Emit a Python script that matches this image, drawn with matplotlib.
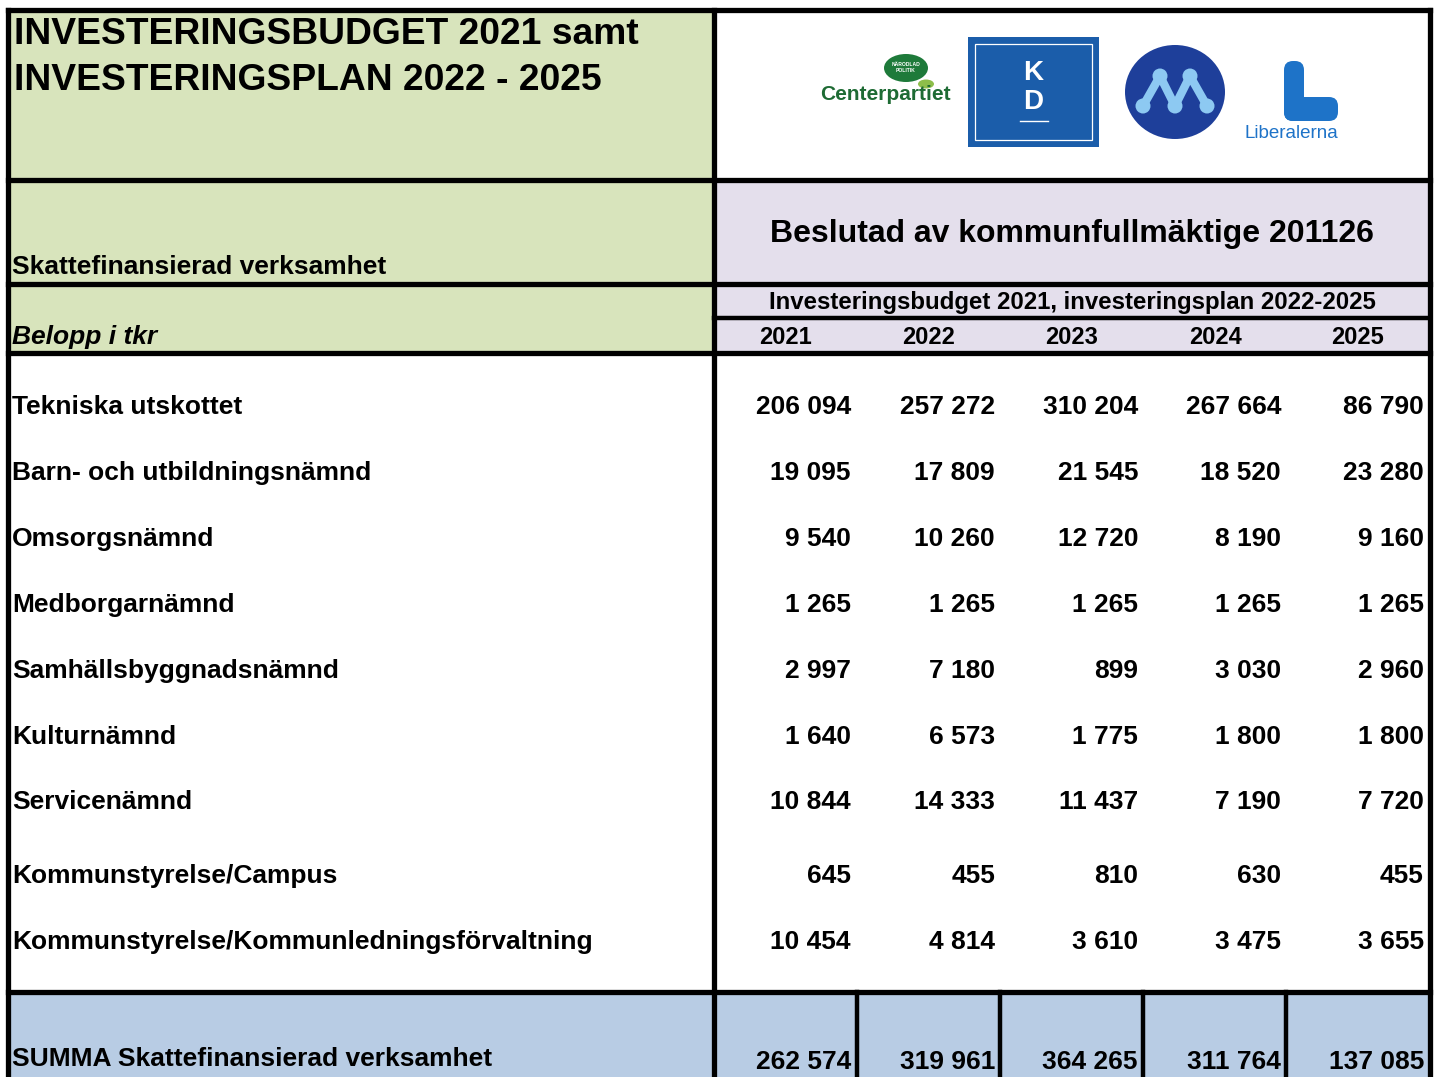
import matplotlib
matplotlib.use("Agg")
import matplotlib.pyplot as plt
from matplotlib.patches import Rectangle, Ellipse, FancyBboxPatch, Circle

plt.rcParams['font.family'] = ['Liberation Sans', 'DejaVu Sans']

# ---------------- data ----------------
title_lines = ["INVESTERINGSBUDGET 2021 samt", "INVESTERINGSPLAN 2022 - 2025"]
section_label = "Skattefinansierad verksamhet"
unit_label = "Belopp i tkr"
decision_text = "Beslutad av kommunfullmäktige 201126"
subheader_text = "Investeringsbudget 2021, investeringsplan 2022-2025"
years = ["2021", "2022", "2023", "2024", "2025"]
categories = [
    "Tekniska utskottet",
    "Barn- och utbildningsnämnd",
    "Omsorgsnämnd",
    "Medborgarnämnd",
    "Samhällsbyggnadsnämnd",
    "Kulturnämnd",
    "Servicenämnd",
    "Kommunstyrelse/Campus",
    "Kommunstyrelse/Kommunledningsförvaltning",
]
values_2021 = [206094, 19095, 9540, 1265, 2997, 1640, 10844, 645, 10454]
values_2022 = [257272, 17809, 10260, 1265, 7180, 6573, 14333, 455, 4814]
values_2023 = [310204, 21545, 12720, 1265, 899, 1775, 11437, 810, 3610]
values_2024 = [267664, 18520, 8190, 1265, 3030, 1800, 7190, 630, 3475]
values_2025 = [86790, 23280, 9160, 1265, 2960, 1800, 7720, 455, 3655]
total_label = "SUMMA Skattefinansierad verksamhet"
totals = [262574, 319961, 364265, 311764, 137085]

# ---------------- layout ----------------
W, H = 1440, 1077
fig = plt.figure(figsize=(W / 100, H / 100), dpi=100)
ax = fig.add_axes([0, 0, 1, 1])
ax.set_xlim(0, W)
ax.set_ylim(H, 0)
ax.axis('off')

GREEN = '#D8E4BC'
LAV = '#E4DFEC'
BLUE = '#B8CCE4'
LW = 3.8
DY = 2  # text baseline adjustment

def rect(x0, y0, x1, y1, color):
    ax.add_patch(Rectangle((x0, y0), x1 - x0, y1 - y0, facecolor=color, edgecolor='none', zorder=1))

rect(8, 10, 714, 180, GREEN)
rect(714, 10, 1430, 180, 'white')
rect(8, 180, 714, 284, GREEN)
rect(714, 180, 1430, 284, LAV)
rect(8, 284, 714, 353, GREEN)
rect(714, 284, 1430, 353, LAV)
rect(8, 353, 1430, 992, 'white')
rect(8, 992, 1430, H, BLUE)

def hline(y, x0, x1, lw=LW):
    ax.plot([x0, x1], [y, y], color='black', lw=lw, solid_capstyle='projecting', zorder=5)

def vline(x, y0, y1, lw=LW):
    ax.plot([x, x], [y0, y1], color='black', lw=lw, solid_capstyle='projecting', zorder=5)

hline(10, 8, 1430)
hline(180, 8, 1430)
hline(284, 8, 1430)
hline(318, 714, 1430, lw=3.2)
hline(353, 8, 1430)
hline(992, 8, 1430)
vline(8, 10, H + 5)
vline(1430, 10, H + 5)
vline(714, 10, H + 5)
col_sep = [857, 1000, 1143, 1286]
for x in col_sep:
    vline(x, 992, H + 5, lw=3.2)

# ---------------- texts ----------------
FS = 19
ax.text(14, 34 + 1, title_lines[0], fontsize=26.8, fontweight='bold', va='center', ha='left', zorder=6)
ax.text(14, 80 + 1, title_lines[1], fontsize=26.8, fontweight='bold', va='center', ha='left', zorder=6)
ax.text(12, 265 + DY, section_label, fontsize=FS, fontweight='bold', va='center', ha='left', zorder=6)
ax.text(12, 335 + DY, unit_label, fontsize=FS, fontweight='bold', style='italic', va='center', ha='left', zorder=6)
ax.text(1072, 232 + DY, decision_text, fontsize=23, fontweight='bold', va='center', ha='center', zorder=6)
ax.text(1072, 301 + DY, subheader_text, fontsize=17.3, fontweight='bold', va='center', ha='center', zorder=6)

year_centers = [785, 929, 1072, 1215, 1358]
for xc, yr in zip(year_centers, years):
    ax.text(xc, 336 + DY, yr, fontsize=17, fontweight='bold', va='center', ha='center', zorder=6)

def fmt(v):
    return f"{v:,}".replace(",", " ")

row_y = [405, 471, 537, 603, 669, 735, 800, 874, 940]
right_edges = [851, 995, 1138, 1281, 1424]
series = [values_2021, values_2022, values_2023, values_2024, values_2025]
for i, (cat, y) in enumerate(zip(categories, row_y)):
    ax.text(12, y + DY, cat, fontsize=FS, fontweight='bold', va='center', ha='left', zorder=6)
    for xr, vals in zip(right_edges, series):
        ax.text(xr, y + DY, fmt(vals[i]), fontsize=FS, fontweight='bold', va='center', ha='right', zorder=6)

ax.text(12, 1057 + DY, total_label, fontsize=FS, fontweight='bold', va='center', ha='left', zorder=6)
for xr, v in zip(right_edges, totals):
    ax.text(xr, 1060 + DY, fmt(v), fontsize=FS, fontweight='bold', va='center', ha='right', zorder=6)

# ---------------- logos (decorative) ----------------
# Centerpartiet
ax.add_patch(Ellipse((906, 68), 44, 28, facecolor='#1E7A3A', edgecolor='none', zorder=6))
ax.add_patch(Ellipse((926, 84), 16, 9, facecolor='#8DBE4A', edgecolor='none', zorder=6))
ax.text(906, 64, "NÄRODLAD", fontsize=3.6, color='white', fontweight='bold', ha='center', va='center', zorder=7)
ax.text(906, 71, "POLITIK", fontsize=3.6, color='white', fontweight='bold', ha='center', va='center', zorder=7)
ax.text(885, 95, "Centerpartiet", fontsize=15, color='#1E6B34', fontweight='bold', ha='center', va='center', zorder=7)

# KD
ax.add_patch(Rectangle((968, 37), 131, 110, facecolor='#1B5DAA', edgecolor='none', zorder=6))
ax.add_patch(Rectangle((975, 44), 117, 96, facecolor='none', edgecolor='white', lw=0.9, zorder=7))
ax.text(1033, 73, "K", fontsize=20, color='white', fontweight='bold', ha='center', va='center', zorder=7)
ax.text(1033, 102, "D", fontsize=20, color='white', fontweight='bold', ha='center', va='center', zorder=7)
ax.plot([1020, 1048], [121, 121], color='white', lw=1.0, zorder=7)

# M
ax.add_patch(Ellipse((1175, 92), 100, 94, facecolor='#1E3F9A', edgecolor='none', zorder=6))
mx = [1143, 1160, 1175, 1190, 1207]
my = [106, 76, 106, 76, 106]
ax.plot(mx, my, color='#8DC9F2', lw=6, solid_capstyle='round', zorder=7)
for px, py in zip(mx, my):
    ax.add_patch(Circle((px, py), 7.5, facecolor='#8DC9F2', edgecolor='none', zorder=8))

# Liberalerna
ax.add_patch(FancyBboxPatch((1284, 61), 20, 60, boxstyle="round,pad=0,rounding_size=9",
                            facecolor='#1E73C8', edgecolor='none', zorder=6))
ax.add_patch(FancyBboxPatch((1284, 97), 54, 24, boxstyle="round,pad=0,rounding_size=9",
                            facecolor='#1E73C8', edgecolor='none', zorder=6))
ax.text(1291, 133, "Liberalerna", fontsize=13.5, color='#1E73C8', ha='center', va='center', zorder=7)

fig.savefig("out.png", dpi=100)
